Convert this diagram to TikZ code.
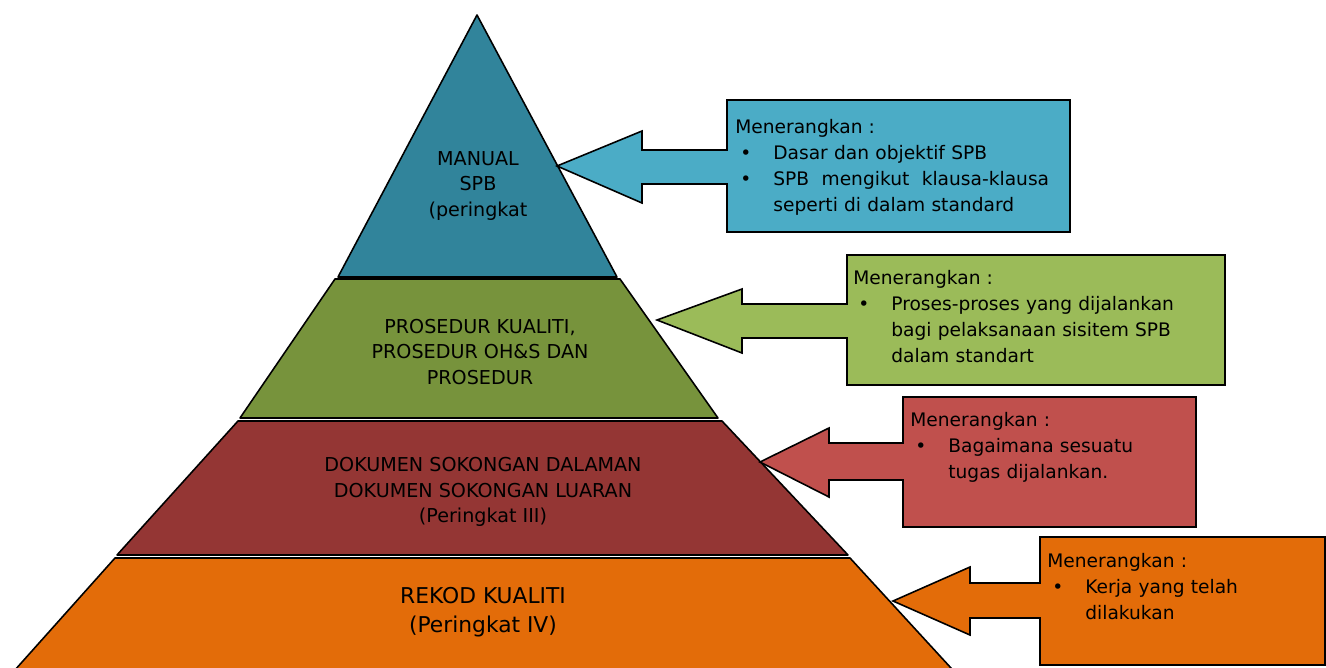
\documentclass[tikz,border=0pt]{standalone}
\usepackage{fontspec}
\setmainfont{DejaVu Sans}
\usetikzlibrary{positioning}

\definecolor{tealdark}{HTML}{31849B}
\definecolor{teallight}{HTML}{4BACC6}
\definecolor{olivedark}{HTML}{77933C}
\definecolor{olivelight}{HTML}{9BBB59}
\definecolor{reddark}{HTML}{943634}
\definecolor{redlight}{HTML}{C0504D}
\definecolor{orangemain}{HTML}{E36C09}

\newcommand{\bitem}[1]{\par\noindent
  \makebox[7.6mm][l]{\hspace{1mm}\textbullet}\parbox[t]{6cm}{\raggedright #1}}

\begin{document}
\begin{tikzpicture}[x=0.2mm, y=-0.2mm,
  layer/.style={draw=black, line width=0.9pt, line join=round},
  callout/.style={draw=black, line width=0.9pt, line join=miter},
  lbl/.style={align=center, inner sep=0pt,
              font=\fontsize{10.9}{14.7}\selectfont},
  note/.style={anchor=north west, align=left, inner sep=0pt,
               font=\fontsize{10.6}{14.7}\selectfont}
]
\clip (0,0) rectangle (1326,667);

% pyramid layers
\fill[white] (0,0) rectangle (1326,667);
\path[layer, fill=tealdark] (477,15) -- (617,277) -- (338,277) -- cycle;
\path[layer, fill=olivedark] (335,279) -- (620,279) -- (718,418) -- (240,418) -- cycle;
\path[layer, fill=reddark] (238,421) -- (722,421) -- (848,555) -- (117,555) -- cycle;
\path[layer, fill=orangemain] (115,558) -- (850,558) -- (962,680) -- (6,680) -- cycle;

\node[lbl] (manual) at (478,186) {MANUAL\\SPB\\(peringkat};
\node[lbl] (prosedur) at (480,352) {PROSEDUR KUALITI,\\PROSEDUR OH\&S DAN\\PROSEDUR};
\node[lbl] (dokumen) at (483,492) {DOKUMEN SOKONGAN DALAMAN\\DOKUMEN SOKONGAN LUARAN\\(Peringkat III)};
\node[lbl, font=\fontsize{12.4}{16.4}\selectfont] (rekod) at (483,612) {REKOD KUALITI\\(Peringkat IV)};

% callouts: box with arrow pointing at its layer
\path[callout, fill=teallight] (727,100) -- (1070,100) -- (1070,232) -- (727,232) -- (727,184)
  -- (642,184) -- (642,203) -- (557,166) -- (642,131) -- (642,150) -- (727,150) -- cycle;
\path[callout, fill=olivelight] (847,255) -- (1225,255) -- (1225,385) -- (847,385) -- (847,338)
  -- (742,338) -- (742,353) -- (657,320) -- (742,289) -- (742,304) -- (847,304) -- cycle;
\path[callout, fill=redlight] (903,397) -- (1196,397) -- (1196,527) -- (903,527) -- (903,480)
  -- (829,480) -- (829,497) -- (760,462) -- (829,428) -- (829,443) -- (903,443) -- cycle;
\path[callout, fill=orangemain] (1040,537) -- (1325,537) -- (1325,665) -- (1040,665) -- (1040,618)
  -- (970,618) -- (970,635) -- (893,601) -- (970,567) -- (970,583) -- (1040,583) -- cycle;

\node[note, text width=6.5cm] (n1) at (735,119) {Menerangkan :
  \bitem{Dasar dan objektif SPB}
  \bitem{SPB\ \ mengikut\ \ klausa-klausa\\seperti di dalam standard}};
\node[note, text width=7.2cm] (n2) at (853,270) {Menerangkan :
  \bitem{Proses-proses yang dijalankan\\bagi pelaksanaan sisitem SPB\\dalam standart}};
\node[note, text width=5.5cm] (n3) at (910,412) {Menerangkan :
  \bitem{Bagaimana sesuatu\\tugas dijalankan.}};
\node[note, text width=5cm] (n4) at (1047,553) {Menerangkan :
  \bitem{Kerja yang telah\\dilakukan}};
\end{tikzpicture}
\end{document}
